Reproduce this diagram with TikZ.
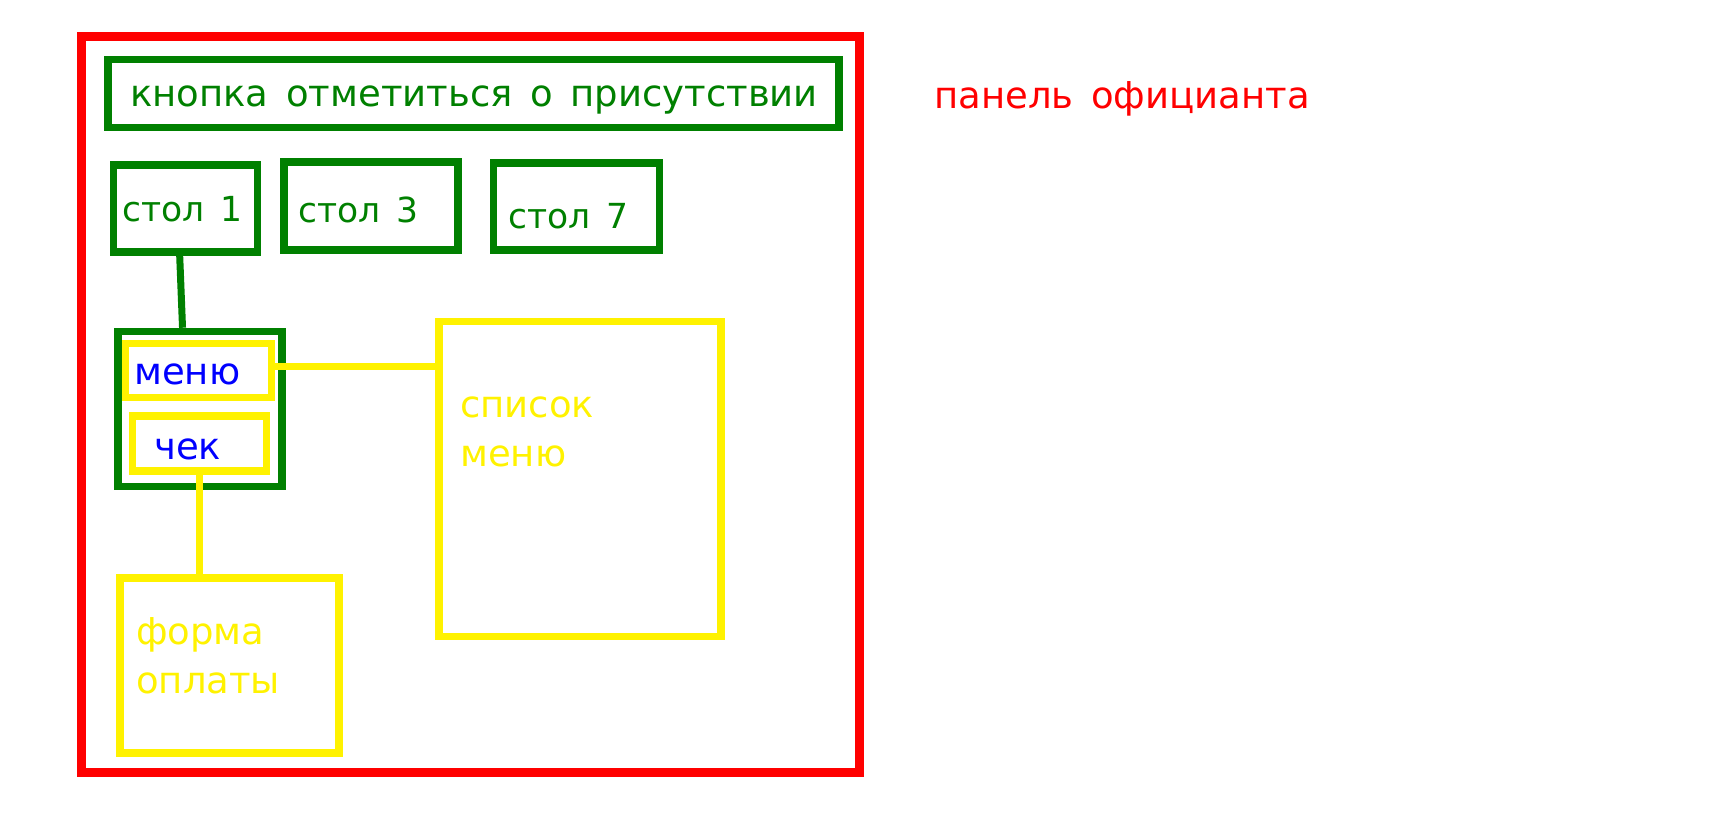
\documentclass[tikz,border=0pt]{standalone}
\usepackage{fontspec}
\setmainfont[WordSpace=1.5]{DejaVu Sans}
\usepackage{tikz}
\usetikzlibrary{positioning}

\definecolor{dgreen}{RGB}{0,128,0}

\begin{document}
\begin{tikzpicture}[
    x=1pt, y=-1pt,
    every node/.style={inner sep=0pt, font=\fontsize{37}{49}\selectfont},
    redbox/.style={draw=red, line width=8.5pt},
    greenbox/.style={draw=dgreen, line width=7.5pt},
    yellowbox/.style={draw=yellow, line width=7.5pt},
    greentext/.style={text=dgreen, anchor=base west},
    tabletext/.style={greentext, font=\fontsize{34.5}{42}\selectfont},
    bluetext/.style={text=blue, anchor=base west},
    yellowtext/.style={text=yellow, anchor=base west, align=left}
]
    \useasboundingbox (0,0) rectangle (1726,824);

    % Outer panel
    \node[redbox, minimum width=778pt, minimum height=736pt] (panel) at (470.6, 404.5) {};
    \node[text=red, anchor=base west] (paneltitle) at (934, 109) {панель официанта};

    % Attendance button
    \node[greenbox, minimum width=731pt, minimum height=68pt] (button) at (473.4, 93.6) {};
    \node[greentext] (buttontext) at (130, 107) {кнопка отметиться о присутствии};

    % Tables
    \node[greenbox, minimum width=144pt, minimum height=87pt] (stol1) at (185.5, 208.6) {};
    \node[tabletext] (stol1text) at (122, 221) {стол 1};
    \node[greenbox, minimum width=174pt, minimum height=88pt] (stol3) at (371, 205.9) {};
    \node[tabletext] (stol3text) at (298, 222) {стол 3};
    \node[greenbox, minimum width=166pt, minimum height=87pt] (stol7) at (576.3, 206.4) {};
    \node[tabletext] (stol7text) at (508, 228) {стол 7};

    % Table 1: menu and bill
    \node[greenbox, minimum width=164pt, minimum height=155pt] (grp) at (199.8, 409) {};
    \node[yellowbox, minimum width=146pt, minimum height=54pt] (menu) at (198.7, 370.5) {};
    \node[bluetext] (menutext) at (134, 384) {меню};
    \node[yellowbox, minimum width=134pt, minimum height=55pt] (chek) at (199.3, 443.6) {};
    \node[bluetext] (chektext) at (154, 459) {чек};

    \draw[dgreen, line width=7pt] (stol1.263) -- (grp.102);

    % Menu list
    \node[yellowbox, minimum width=282pt, minimum height=315pt] (spisok) at (580.1, 478.9) {};
    \node[yellowtext] (spisoktext) at (460, 466) {список\\меню};
    \draw[yellow, line width=7pt] ([yshift=4pt]menu.east) -- ([yshift=4pt]menu.east -| spisok.west);

    % Payment form
    \node[yellowbox, minimum width=219pt, minimum height=175pt] (forma) at (229.5, 665.5) {};
    \node[yellowtext] (formatext) at (136, 693) {форма\\оплаты};
    \draw[yellow, line width=7pt, line cap=round] ([yshift=4pt]chek.south) -- (chek.south |- forma.north);

\end{tikzpicture}
\end{document}
